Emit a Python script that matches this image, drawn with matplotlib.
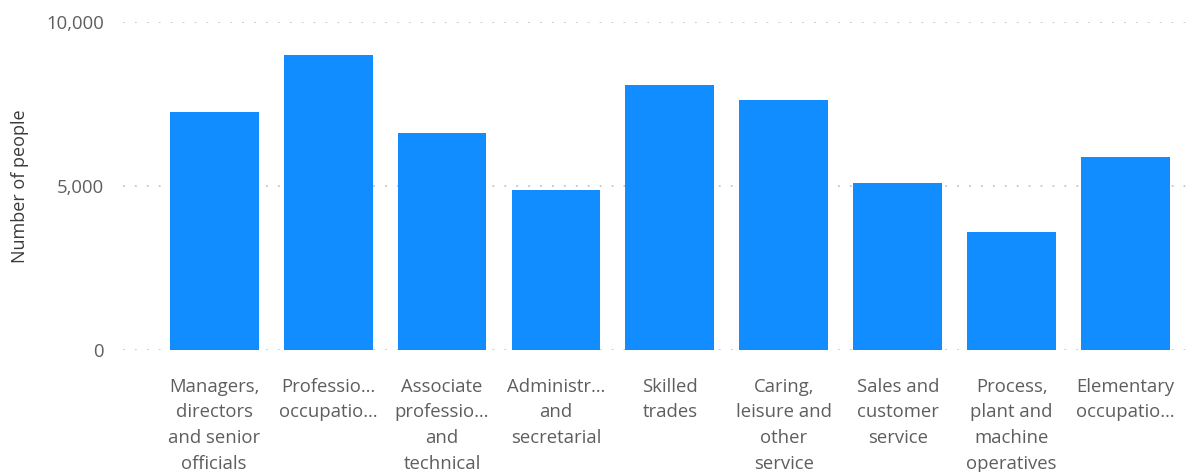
import matplotlib
matplotlib.use("Agg")
import matplotlib.pyplot as plt

BAR_COLOR  = "#118DFF"
TEXT_COLOR = "#605E5C"
GRID_COLOR = "#C8C6C4"

categories = [
    "Managers,\ndirectors\nand senior\nofficials",
    "Professio…\noccupatio…",
    "Associate\nprofessio…\nand\ntechnical",
    "Administr…\nand\nsecretarial",
    "Skilled\ntrades",
    "Caring,\nleisure and\nother\nservice",
    "Sales and\ncustomer\nservice",
    "Process,\nplant and\nmachine\noperatives",
    "Elementary\noccupatio…",
]
people = [7250, 9000, 6620, 4880, 8080, 7620, 5090, 3600, 5880]
yticks = [0, 5000, 10000]
ytick_labels = ["0", "5,000", "10,000"]

plt.rcParams["font.family"] = ["Open Sans", "DejaVu Sans"]

fig = plt.figure(figsize=(11.92, 4.72), dpi=100)
ax = fig.add_axes([123 / 1192, 1 - 350 / 472, (1190 - 123) / 1192, 328 / 472])

x = range(len(categories))
ax.bar(x, people, width=0.78, color=BAR_COLOR, zorder=2)

ax.set_xlim(-0.80, 8.565)
ax.set_ylim(0, 10000)
ax.set_yticks(yticks)
ax.set_yticklabels(ytick_labels, fontsize=13.3, color=TEXT_COLOR)
ax.set_xticks(list(x))
ax.set_xticklabels(categories, fontsize=13.3, color=TEXT_COLOR,
                   linespacing=1.55, va="top", ha="center")
ax.tick_params(axis="both", length=0)
ax.tick_params(axis="x", pad=20)
ax.tick_params(axis="y", pad=13.5)

ax.grid(axis="y", color=GRID_COLOR, linestyle=(0, (1, 5.6)), linewidth=1.3, zorder=0)
for s in ax.spines.values():
    s.set_visible(False)

ax.set_ylabel("Number of people", fontsize=13, color="#3B3A39")
ax.yaxis.set_label_coords(-0.088, 0.5)

fig.savefig("out.png", dpi=100)
